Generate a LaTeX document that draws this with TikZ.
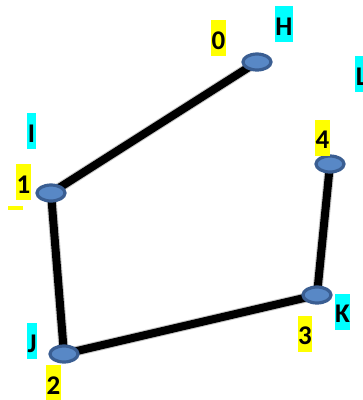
\documentclass[tikz,border=0pt]{standalone}
\usepackage{fontspec}
\setmainfont{Carlito}
\usetikzlibrary{shapes.geometric,backgrounds}
\definecolor{nodefill}{RGB}{88,136,198}
\definecolor{nodeline}{RGB}{58,94,146}
\definecolor{hlyellow}{RGB}{255,255,0}
\definecolor{hlcyan}{RGB}{0,255,255}
\tikzset{
  vertex/.style={ellipse, draw=nodeline, fill=nodefill, line width=3.2pt,
    minimum width=28pt, minimum height=16pt, inner sep=0pt},
  edge/.style={line width=8pt, black, line join=round},
  edgeshadow/.style={line width=10pt, black, opacity=0.08, line join=round},
  tag/.style={font=\fontsize{27}{32}\selectfont\bfseries, inner xsep=0.6pt,
    inner ysep=0pt, text height=29pt, text depth=7pt},
  numtag/.style={tag, fill=hlyellow},
  lettag/.style={tag, fill=hlcyan},
}
\begin{document}
\begin{tikzpicture}[x=1pt,y=-1pt]
  \useasboundingbox (0,0) rectangle (363,400);
  \clip (0,0) rectangle (363,400);
  % vertices
  \node[vertex] (v0) at (257,62) {};
  \node[vertex] (v1) at (51,193) {};
  \node[vertex] (v2) at (64,354) {};
  \node[vertex] (v3) at (317,295) {};
  \node[vertex] (v4) at (330,164) {};
  % edges of the path with a soft shadow, behind the vertices
  \begin{scope}[on background layer]
    \foreach \d in {1.5,3,4.5}{
      \begin{scope}[shift={(\d*0.6,\d)}]
        \draw[edgeshadow] (v0.center) -- (v1.center) -- (v2.center) -- (v3.center) -- (v4.center);
      \end{scope}
    }
    \draw[edge] (v0.center) -- (v1.center) -- (v2.center) -- (v3.center) -- (v4.center);
  \end{scope}
  % index labels
  \node[numtag] (n0) at (218.5,38) {0};
  \node[numtag] (n1) at (23.5,182) {1};
  \node[numtag] (n2) at (53.5,383) {2};
  \node[numtag] (n3) at (305,333.5) {3};
  \node[numtag] (n4) at (322.5,137.5) {4};
  % name labels
  \node[lettag] (lH) at (284,24) {H};
  \node[lettag] (lI) at (31.5,131) {I};
  \node[lettag] (lJ) at (32,341) {J};
  \node[lettag] (lK) at (342.5,311.5) {K};
  \node[lettag, anchor=west] (lL) at (355,74) {L};
  % small highlight mark under label 1
  \fill[hlyellow] (8,206) rectangle (23,209.5);
\end{tikzpicture}
\end{document}
